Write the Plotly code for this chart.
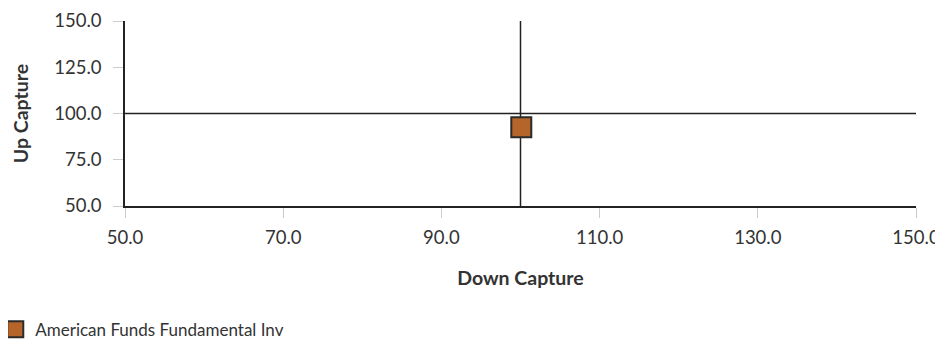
import plotly.graph_objects as go

fund_names = ["American Funds Fundamental Inv"]
down_capture = [100.1]
up_capture = [92.6]
x_ticks = [50, 70, 90, 110, 130, 150]
y_ticks = [50, 75, 100, 125, 150]

FONT = "Lato, 'Open Sans', sans-serif"

fig = go.Figure()
fig.add_trace(go.Scatter(
    x=down_capture, y=up_capture, mode="markers", name=fund_names[0],
    marker=dict(symbol="square", size=20, color="#B5652A",
                line=dict(color="#2b2b2b", width=2)),
))

fig.add_shape(type="line", xref="x", yref="y", x0=100, x1=100, y0=50, y1=150,
              line=dict(color="#222", width=1.5), layer="below")
fig.add_shape(type="line", xref="x", yref="y", x0=50, x1=150, y0=100, y1=100,
              line=dict(color="#222", width=1.5), layer="below")

# page has an 8px body margin, so figure is 935x335 offset by (8, 8)
fig.update_layout(
    width=935, height=335,
    margin=dict(l=117, r=27, t=13, b=137, autoexpand=False),
    plot_bgcolor="white", paper_bgcolor="white",
    font=dict(family=FONT, size=19, color="#333"),
    showlegend=True,
    legend=dict(orientation="h", x=-0.164, xanchor="left",
                yref="container", y=0.04, yanchor="middle",
                font=dict(size=17, color="#333"), itemsizing="trace",
                bgcolor="rgba(0,0,0,0)"),
    xaxis=dict(range=[50, 150], tickvals=x_ticks, ticktext=[f"{v:.1f}" for v in x_ticks],
               showgrid=False, zeroline=False, showline=True, linecolor="#222", linewidth=1.5,
               ticks="outside", ticklen=10, tickcolor="#ccc", tickwidth=1,
               ticklabelstandoff=4, automargin=False, tickfont=dict(size=18.5),
               title=dict(text="<b>Down Capture</b>", font=dict(size=19.5, color="#333"), standoff=24)),
    yaxis=dict(range=[50, 150], tickvals=y_ticks, ticktext=[f"{v:.1f}" for v in y_ticks],
               showgrid=False, zeroline=False, showline=True, linecolor="#222", linewidth=1.5,
               ticks="outside", ticklen=10, tickcolor="#ccc", tickwidth=1,
               ticklabelstandoff=8, automargin=False, tickfont=dict(size=18.5),
               title=dict(text="<b>Up Capture</b>", font=dict(size=19.5, color="#333"), standoff=20)),
)

fig.write_html("out.html")
